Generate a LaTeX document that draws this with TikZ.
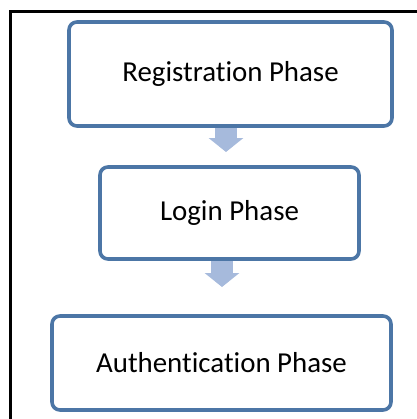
\documentclass[tikz,border=0pt]{standalone}
\usepackage{fontspec}
\setmainfont{Carlito}[Ligatures={NoCommon,NoContextual}]
\usetikzlibrary{arrows.meta,calc}
\pgfdeclarelayer{background}
\pgfsetlayers{background,main}
\definecolor{boxblue}{RGB}{76,118,166}
\definecolor{arrowfill}{RGB}{166,186,220}
\tikzset{
  phasebox/.style={draw=boxblue, line width=3.6bp, rounded corners=8bp, fill=white,
    inner sep=0pt, font=\fontsize{29}{34}\selectfont, text=black},
  flow/.style={draw=arrowfill, line width=22bp,
    -{Triangle[width=34bp,length=14bp,fill=arrowfill]}},
  frameline/.style={draw=black, line width=2.4bp}
}
\begin{document}
\begin{tikzpicture}[x=1bp,y=-1bp]
  \useasboundingbox (0,0) rectangle (417,419);
  % outer frame (top and left edges)
  \draw[frameline] (10.5,419) -- (10.5,11.5) -- (417,11.5);

  % arrow tips between phases
  \coordinate (t1) at (226,152);
  \coordinate (t2) at (222,287);

  % phases
  \node[phasebox, minimum width=323bp, minimum height=104bp] (reg) at (230.5,74) {Registration Phase};
  \node[phasebox, minimum width=259bp, minimum height=92bp] (login) at (229.5,213) {Login Phase};
  \node[phasebox, minimum width=339bp, minimum height=94bp] (auth) at (221.5,363) {Authentication Phase};

  % flow arrows, tucked behind the boxes
  \begin{pgfonlayer}{background}
    \draw[flow] ($(reg.south -| t1)+(0,-4)$) -- (t1);
    \draw[flow] ($(login.south -| t2)+(0,-4)$) -- (t2);
  \end{pgfonlayer}
\end{tikzpicture}
\end{document}
